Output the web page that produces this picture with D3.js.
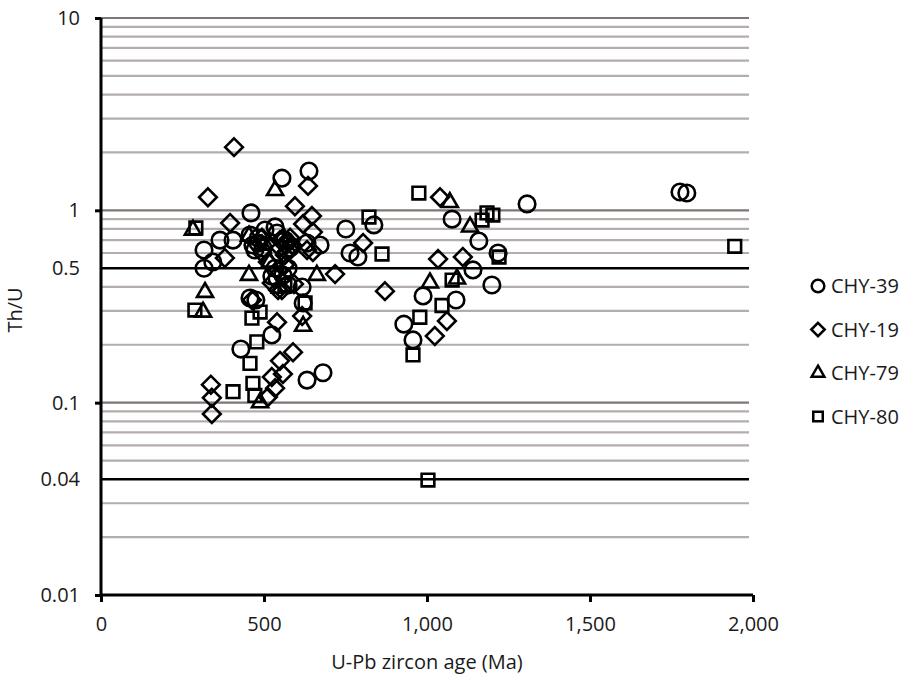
<!DOCTYPE html>
<html>
<head>
<meta charset="utf-8">
<script src="https://cdn.jsdelivr.net/npm/d3@7"></script>
<style>
  body { margin: 0; background: #fff; }
  svg text { font-family: "Open Sans", sans-serif; fill: #1a1a1a; }
</style>
</head>
<body>
<svg id="chart"></svg>
<script>
// Ages in Ma, Th/U ratios, one list per sample
const chy39 = [
    [555, 1.47], [638, 1.60], [460, 0.97], [751, 0.80], [764, 0.60], [788, 0.572],
    [316, 0.622], [316, 0.50], [365, 0.70], [405, 0.70], [503, 0.79], [534, 0.82],
    [672, 0.66], [482, 0.676], [540, 0.762], [466, 0.66], [497, 0.637], [632, 0.676],
    [837, 0.84], [540, 0.444], [574, 0.409], [617, 0.399], [620, 0.33], [457, 0.35],
    [475, 0.342], [524, 0.225], [429, 0.19], [632, 0.131], [681, 0.143], [343, 0.539],
    [524, 0.455], [929, 0.256], [957, 0.212], [988, 0.359], [1089, 0.342], [1077, 0.90],
    [1159, 0.692], [1141, 0.49], [1199, 0.409], [1218, 0.60], [1307, 1.08],
    [1776, 1.245], [1797, 1.23],
    [457, 0.744], [482, 0.718], [472, 0.622], [564, 0.70], [580, 0.637], [534, 0.50],
    [558, 0.46], [574, 0.50]
];
const chy19 = [
    [408, 2.13], [328, 1.17], [635, 1.34], [595, 1.05], [647, 0.934], [620, 0.849],
    [396, 0.859], [380, 0.565], [632, 0.622], [650, 0.607], [650, 0.771], [804, 0.676],
    [718, 0.466], [871, 0.38], [1034, 0.558], [1110, 0.572], [1061, 0.266], [1024, 0.222],
    [1040, 1.17], [337, 0.124], [340, 0.106], [340, 0.0873], [589, 0.183], [549, 0.165],
    [558, 0.141], [524, 0.136], [534, 0.119], [512, 0.107], [463, 0.342], [617, 0.282],
    [540, 0.262], [512, 0.539], [543, 0.49], [564, 0.586], [574, 0.676], [580, 0.622],
    [494, 0.60], [592, 0.414], [558, 0.715], [567, 0.66], [549, 0.637], [580, 0.72],
    [555, 0.385], [549, 0.70], [586, 0.66], [570, 0.61], [524, 0.419], [543, 0.385],
    [564, 0.52], [494, 0.72]
];
const chy79 = [
    [534, 1.27], [282, 0.79], [454, 0.735], [454, 0.46], [662, 0.46], [319, 0.375],
    [313, 0.296], [620, 0.25], [488, 0.10], [1070, 1.10], [1132, 0.82], [1009, 0.42],
    [1092, 0.44], [518, 0.539], [494, 0.66], [549, 0.394]
];
const chy80 = [
    [291, 0.81], [288, 0.303], [463, 0.275], [488, 0.296], [478, 0.207], [457, 0.16],
    [466, 0.126], [405, 0.114], [472, 0.109], [626, 0.33], [975, 1.23], [822, 0.923],
    [862, 0.593], [1169, 0.89], [1184, 0.97], [1202, 0.945], [1221, 0.572], [978, 0.278],
    [1046, 0.32], [1077, 0.434], [957, 0.177], [1003, 0.0396], [1944, 0.65], [564, 0.409]
];

const seriesNames = ["CHY-39", "CHY-19", "CHY-79", "CHY-80"];
const seriesShapes = [d3.symbolCircle, d3.symbolDiamond2, d3.symbolTriangle2, d3.symbolSquare2];
const allSeries = [chy39, chy19, chy79, chy80];

const xTicks = [0, 500, 1000, 1500, 2000];
const yTicks = [10, 1, 0.5, 0.1, 0.04, 0.01];
const yMajor = [10, 1, 0.1, 0.01];
const yBold = [0.5, 0.04];

const width = 924, height = 680;
const margin = { top: 18, right: 171, bottom: 85, left: 101 };

const svg = d3.select("#chart").attr("width", width).attr("height", height);

const x = d3.scaleLinear().domain([0, 2000]).range([margin.left, width - margin.right]);
const y = d3.scaleLog().domain([0.01, 10]).range([height - margin.bottom, margin.top]);

// horizontal grid: every log minor step, decades darker, two reference lines black
let gridVals = [];
[0.01, 0.1, 1].forEach(function(dec) {
    for (let k = 1; k <= 9; k++) gridVals.push(+(dec * k).toPrecision(3));
});
gridVals.push(10);
gridVals = gridVals.filter(function(v) { return v > 0.015 && yBold.indexOf(v) < 0; });

svg.append("g")
    .selectAll("line")
    .data(gridVals)
    .enter().append("line")
    .attr("x1", margin.left)
    .attr("x2", width - margin.right - 4)
    .attr("y1", function(d) { return y(d); })
    .attr("y2", function(d) { return y(d); })
    .attr("stroke", function(d) { return yMajor.indexOf(d) >= 0 ? "#7d7775" : "#b3adab"; })
    .attr("stroke-width", 2.2);

svg.append("g")
    .selectAll("line")
    .data(yBold)
    .enter().append("line")
    .attr("x1", margin.left)
    .attr("x2", width - margin.right - 4)
    .attr("y1", function(d) { return y(d); })
    .attr("y2", function(d) { return y(d); })
    .attr("stroke", "#000")
    .attr("stroke-width", 2.6);

// axes
const xAxis = svg.append("g")
    .attr("transform", "translate(0," + y(0.01) + ")")
    .call(d3.axisBottom(x).tickValues(xTicks).tickSize(7).tickPadding(15)
        .tickFormat(d3.format(",")));

const yAxis = svg.append("g")
    .attr("transform", "translate(" + margin.left + ",0)")
    .call(d3.axisLeft(y).tickValues(yTicks).tickSize(6).tickPadding(15)
        .tickFormat(function(d) { return String(d); }));

[xAxis, yAxis].forEach(function(ax) {
    ax.select(".domain").attr("stroke", "#000").attr("stroke-width", 3);
    ax.selectAll(".tick line").attr("stroke", "#000").attr("stroke-width", 3);
    ax.selectAll(".tick text").attr("font-size", 20).attr("fill", "#1a1a1a")
        .style("font-family", "'Open Sans', sans-serif");
});
yAxis.selectAll(".tick line").filter(function(d) { return yMajor.indexOf(d) < 0; }).remove();
yAxis.select(".domain").attr("d", "M0," + y(0.01) + "V" + y(10));
xAxis.select(".domain").attr("d", "M" + x(0) + ",0H" + x(2000));

// points
const sym = d3.symbol();
const sizes = [215, 200, 185, 205];
allSeries.forEach(function(data, i) {
    svg.append("g")
        .selectAll("path")
        .data(data)
        .enter().append("path")
        .attr("transform", function(d) { return "translate(" + x(d[0]) + "," + y(d[1]) + ")"; })
        .attr("d", sym.type(seriesShapes[i]).size(sizes[i])())
        .attr("fill", "none")
        .attr("stroke", "#000")
        .attr("stroke-width", 2.6);
});

// legend
const legend = svg.append("g").attr("transform", "translate(818,286)");
seriesNames.forEach(function(name, i) {
    const row = legend.append("g").attr("transform", "translate(0," + (i * 43.5) + ")");
    row.append("path")
        .attr("d", d3.symbol().type(seriesShapes[i]).size(i === 0 ? 125 : 115)())
        .attr("fill", "none")
        .attr("stroke", "#000")
        .attr("stroke-width", 2.5);
    row.append("text")
        .attr("x", 13)
        .attr("dy", "0.36em")
        .attr("font-size", 20)
        .text(name);
});

// axis titles
svg.append("text")
    .attr("x", x(1000))
    .attr("y", 669)
    .attr("text-anchor", "middle")
    .attr("font-size", 20)
    .text("U-Pb zircon age (Ma)");

svg.append("text")
    .attr("transform", "translate(22,310) rotate(-90)")
    .attr("text-anchor", "middle")
    .attr("font-size", 20)
    .text("Th/U");
</script>
</body>
</html>
